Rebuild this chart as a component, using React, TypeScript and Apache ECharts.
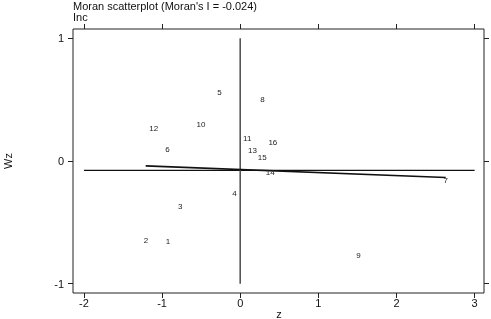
import React, { useEffect, useRef } from "react";
import * as echarts from "echarts";

const ids = ["1", "2", "3", "4", "5", "6", "7", "8", "9", "10", "11", "12", "13", "14", "15", "16"];
const zValues = [-0.925, -1.206, -0.767, -0.073, -0.265, -0.93, 2.63, 0.285, 1.513, -0.503, 0.09, -1.108, 0.158, 0.384, 0.281, 0.418];
const wzValues = [-0.654, -0.651, -0.372, -0.263, 0.562, 0.09, -0.157, 0.502, -0.77, 0.299, 0.187, 0.261, 0.087, -0.09, 0.028, 0.147];
const xTicks = [-2, -1, 0, 1, 2, 3];
const yTicks = [-1, 0, 1];
const meanWz = -0.076;
const meanLineX = [-2, 3];
const zeroLineY = [-1, 1];
const regX = [-1.21, 2.63];
const regY = [-0.04, -0.135];
const titleText = "Moran scatterplot (Moran's I = -0.024)";
const subTitle = "Inc";
const xName = "z";
const yName = "Wz";

const FONT = "'Liberation Sans', Arial, sans-serif";

export default function App() {
  const ref = useRef<HTMLDivElement>(null);
  useEffect(() => {
    if (!ref.current) return;
    const chart = echarts.init(ref.current, null, { renderer: "svg" });
    const tickStyle = { show: true, length: 5, inside: false, lineStyle: { color: "#222", width: 1 } };
    const xCommon = {
      type: "value" as const,
      min: -2.14,
      max: 3.12,
      splitLine: { show: false },
      axisLine: { show: false, onZero: false },
    };
    const yCommon = {
      type: "value" as const,
      min: -1.076,
      max: 1.076,
      splitLine: { show: false },
      axisLine: { show: false, onZero: false },
    };
    chart.setOption({
      animation: false,
      textStyle: { fontFamily: FONT },
      grid: {
        left: 73, right: 7, top: 29, bottom: 26, containLabel: false, outerBoundsMode: "none",
        show: true, borderColor: "#222", borderWidth: 1, backgroundColor: "#fff",
      },
      graphic: [
        { type: "text", left: 73, top: 0, style: { text: titleText, fontSize: 11, fill: "#111", fontFamily: FONT } },
        { type: "text", left: 73, top: 11, style: { text: subTitle, fontSize: 11, fill: "#111", fontFamily: FONT } },
        {
          type: "text", x: 279, y: 314,
          style: { text: xName, fontSize: 11, fill: "#111", fontFamily: FONT, align: "center", verticalAlign: "middle" },
        },
      ],
      xAxis: [
        {
          ...xCommon,
          position: "bottom",
          axisTick: { ...tickStyle, customValues: xTicks },
          axisLabel: { customValues: xTicks, fontSize: 11, color: "#111", margin: 4, fontFamily: FONT },
        },
        {
          ...xCommon,
          position: "top",
          axisTick: { ...tickStyle, customValues: xTicks },
          axisLabel: { show: false },
        },
      ],
      yAxis: [
        {
          ...yCommon,
          position: "left",
          axisTick: { ...tickStyle, customValues: yTicks },
          axisLabel: { customValues: yTicks, fontSize: 11, color: "#111", margin: 9, fontFamily: FONT },
          name: yName,
          nameLocation: "middle",
          nameGap: 60,
          nameTextStyle: { fontSize: 11, color: "#111", fontFamily: FONT },
        },
        {
          ...yCommon,
          position: "right",
          axisTick: { ...tickStyle, customValues: yTicks },
          axisLabel: { show: false },
        },
      ],
      series: [
        {
          type: "line",
          data: meanLineX.map((x) => [x, meanWz]),
          symbol: "none",
          lineStyle: { color: "#111", width: 1.3 },
          silent: true,
        },
        {
          type: "line",
          data: zeroLineY.map((y) => [0, y]),
          symbol: "none",
          lineStyle: { color: "#555", width: 1.6 },
          silent: true,
        },
        {
          type: "line",
          data: regX.map((x, i) => [x, regY[i]]),
          symbol: "none",
          lineStyle: { color: "#111", width: 1.6 },
          silent: true,
        },
        {
          type: "custom",
          data: zValues.map((z, i) => [z, wzValues[i], i]),
          encode: { x: 0, y: 1 },
          itemStyle: { color: "#222" },
          renderItem: (params: any, api: any) => {
            const pt = api.coord([api.value(0), api.value(1)]);
            const idx = api.value(2);
            return {
              type: "text",
              x: pt[0],
              y: pt[1],
              style: {
                text: ids[idx],
                fontSize: 8,
                fill: "#222",
                fontFamily: FONT,
                align: "center",
                verticalAlign: "middle",
              },
            };
          },
          z: 5,
          silent: true,
        },
      ],
    });
    return () => chart.dispose();
  }, []);
  return (
    <div
      ref={ref}
      style={{ width: 491, height: 319, position: "absolute", left: 0, top: 0, transform: "translateZ(0)", willChange: "transform" }}
    />
  );
}
